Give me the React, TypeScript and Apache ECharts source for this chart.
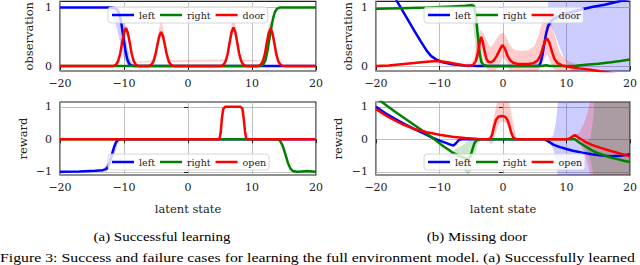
import React, { useEffect, useRef } from 'react';
import * as echarts from 'echarts';

// ---------- axis ticks ----------
const X_MIN = -20;
const X_MAX = 20;
const X_STEP = 10;
const OBS_TICKS = [0, 1];
const REW_TICKS = [-1, 0, 1];
const OBS_RANGE = [-0.085, 1.105];
const REW_RANGE = [-1.1, 1.15];

// ---------- (a) observation ----------
const obsA_left = [[-20, 1], [-12, 1], [-11.4, 0.99], [-11, 0.96], [-10.7, 0.88], [-10.4, 0.72], [-10.1, 0.5], [-9.8, 0.28], [-9.5, 0.12], [-9.2, 0.04], [-8.8, 0.01], [-8.4, 0], [20, 0]];
const obsA_right = [[-20, 0], [11.4, 0], [11.8, 0.03], [12.1, 0.1], [12.4, 0.25], [12.7, 0.45], [13.0, 0.65], [13.3, 0.82], [13.6, 0.93], [13.9, 0.98], [14.3, 1], [20, 1]];
const obsA_door = [
  [-20, 0], [-12, 0], [-11.5, 0.007], [-11.2, 0.03], [-10.9, 0.09], [-10.6, 0.21], [-10.3, 0.4], [-10.0, 0.57], [-9.7, 0.65], [-9.4, 0.57], [-9.1, 0.4], [-8.8, 0.21], [-8.5, 0.09], [-8.2, 0.03], [-7.9, 0.007], [-7.5, 0],
  [-6.5, 0], [-6, 0.006], [-5.7, 0.026], [-5.4, 0.078], [-5.1, 0.19], [-4.8, 0.35], [-4.5, 0.51], [-4.2, 0.58], [-3.9, 0.51], [-3.6, 0.35], [-3.3, 0.19], [-3.0, 0.078], [-2.7, 0.026], [-2.4, 0.006], [-2, 0],
  [4.8, 0], [5.3, 0.007], [5.6, 0.029], [5.9, 0.089], [6.2, 0.21], [6.5, 0.4], [6.8, 0.58], [7.1, 0.66], [7.4, 0.58], [7.7, 0.4], [8.0, 0.21], [8.3, 0.089], [8.6, 0.029], [8.9, 0.007], [9.4, 0],
  [10.6, 0], [11.1, 0.007], [11.4, 0.028], [11.7, 0.086], [12.0, 0.2], [12.3, 0.39], [12.6, 0.56], [12.9, 0.64], [13.2, 0.56], [13.5, 0.39], [13.8, 0.2], [14.1, 0.086], [14.4, 0.028], [14.7, 0.007], [15.2, 0], [20, 0],
];
// bands: [x, low, high]
const bandA_obs_left = [[-12.5, 1, 1], [-12, 0.93, 1.01], [-11.5, 0.8, 1.0], [-11, 0.6, 0.98], [-10.5, 0.35, 0.9], [-10, 0.12, 0.7], [-9.5, 0.02, 0.35], [-9, 0, 0.1], [-8.5, 0, 0.02], [-8, 0, 0]];
const bandA_obs_door = [
  [-11.1, 0.05, 0.07], [-10.8, 0.12, 0.17], [-10.5, 0.24, 0.33], [-10.2, 0.4, 0.52], [-9.95, 0.5, 0.64], [-9.7, 0.56, 0.71], [-9.45, 0.5, 0.64], [-9.2, 0.4, 0.52], [-8.9, 0.24, 0.33], [-8.6, 0.12, 0.17], [-8.3, 0.05, 0.07],
  [-5.4, 0.07, 0.1], [-5.1, 0.16, 0.25], [-4.8, 0.3, 0.45], [-4.5, 0.44, 0.66], [-4.2, 0.5, 0.77], [-3.9, 0.44, 0.66], [-3.6, 0.3, 0.45], [-3.3, 0.16, 0.25], [-3.0, 0.07, 0.1],
  [5.9, 0.08, 0.11], [6.2, 0.18, 0.27], [6.5, 0.34, 0.5], [6.8, 0.5, 0.71], [7.1, 0.57, 0.8], [7.4, 0.5, 0.71], [7.7, 0.34, 0.5], [8.0, 0.18, 0.27], [8.3, 0.08, 0.11],
  [11.7, 0.08, 0.1], [12.0, 0.17, 0.26], [12.3, 0.33, 0.49], [12.6, 0.48, 0.69], [12.9, 0.55, 0.77], [13.2, 0.48, 0.69], [13.5, 0.33, 0.49], [13.8, 0.17, 0.26], [14.1, 0.08, 0.1],
];

// ---------- (a) reward ----------
const rewA_left = [[-20, -1], [-17, -0.99], [-14.5, -0.97], [-13.3, -0.95], [-12.8, -0.92], [-12.5, -0.85], [-12.2, -0.7], [-11.9, -0.48], [-11.6, -0.27], [-11.3, -0.11], [-11, -0.03], [-10.6, 0], [20, 0]];
const rewA_right = [[-20, 0], [14, 0], [14.4, -0.05], [14.8, -0.2], [15.2, -0.45], [15.6, -0.72], [16, -0.9], [16.4, -0.98], [17, -1.0], [17.8, -0.99], [18.6, -0.98], [19.4, -0.99], [20, -1.0]];
const rewA_open = [[-20, 0], [4.9, 0], [5.1, 0.2], [5.3, 0.65], [5.5, 0.93], [5.8, 1], [8.2, 1], [8.5, 0.95], [8.7, 0.65], [8.9, 0.25], [9.1, 0.02], [9.3, 0], [20, 0]];
const bandA_rew_left = [[-14, -0.98, -0.94], [-13.2, -0.98, -0.9], [-12.6, -0.96, -0.72], [-12.1, -0.85, -0.45], [-11.6, -0.55, -0.15], [-11.1, -0.2, -0.02], [-10.6, -0.02, 0], [-10, 0, 0]];

// ---------- (b) observation ----------
const obsB_left = [[-20, 1.72], [-18, 1.35], [-16.7, 1.11], [-15.5, 0.89], [-14, 0.61], [-13, 0.43], [-12, 0.26], [-11.3, 0.17], [-10.5, 0.11], [-9.5, 0.065], [-8, 0.03], [-6, 0.01], [-4, 0.0], [5.6, 0.0], [5.9, 0.05], [6.2, 0.18], [6.5, 0.38], [6.8, 0.56], [7.1, 0.68], [7.5, 0.76], [8, 0.81], [9, 0.86], [10, 0.9], [12, 0.96], [14, 1.01], [16, 1.05], [18, 1.1], [20, 1.15]];
const obsB_right = [[-20, 0.98], [-16, 0.99], [-12, 1.0], [-8, 1.02], [-6, 1.03], [-5, 1.04], [-4.6, 1.03], [-4.4, 0.95], [-4.2, 0.78], [-4.0, 0.55], [-3.8, 0.33], [-3.6, 0.17], [-3.4, 0.07], [-3.1, 0.02], [-2.6, 0], [6, 0], [6.8, 0.015], [7.4, 0], [10, 0], [11.5, 0.005], [13, 0.02], [15, 0.04], [17, 0.065], [18.5, 0.085], [20, 0.11]];
const obsB_door = [[-20, 0], [-18, 0.01], [-16, 0.03], [-14, 0.05], [-12, 0.075], [-10.5, 0.085], [-9, 0.07], [-7.5, 0.04], [-6, 0.01], [-5.2, 0.005], [-4.7, 0.02], [-4.3, 0.08], [-4, 0.2], [-3.7, 0.38], [-3.45, 0.5], [-3.2, 0.42], [-2.9, 0.25], [-2.6, 0.12], [-2.3, 0.07], [-1.9, 0.065], [-1.5, 0.09], [-1.0, 0.17], [-0.5, 0.28], [-0.1, 0.36], [0.3, 0.3], [0.7, 0.18], [1.1, 0.1], [1.6, 0.055], [2.2, 0.04], [3, 0.035], [4, 0.035], [4.8, 0.05], [5.4, 0.09], [5.9, 0.18], [6.3, 0.32], [6.7, 0.45], [6.95, 0.47], [7.3, 0.4], [7.7, 0.25], [8.1, 0.12], [8.6, 0.05], [9.3, 0.01], [10.5, -0.015], [12, -0.04], [13.5, -0.06], [15, -0.085], [17, -0.12], [20, -0.18]];
const bandB_obs_left = [[5.8, 0.03, 0.06], [6.2, 0.15, 0.24], [6.6, 0.4, 0.55], [7.0, 0.62, 0.8], [7.2, 0.68, 1.3], [7.5, 0.7, 2.5], [8, 0.6, 2.5], [8.5, 0.45, 2.5], [9, 0.3, 2.5], [9.5, 0.17, 2.5], [10, 0.06, 2.5], [10.5, -0.04, 2.5], [11, -0.12, 2.5], [12, -0.3, 2.5], [14, -0.6, 2.5], [20, -1.5, 2.5]];
const bandB_obs_right = [[-5.5, 1.0, 1.06], [-5, 0.95, 1.08], [-4.6, 0.6, 1.08], [-4.3, 0.3, 1.06], [-4, 0.05, 0.92], [-3.7, 0, 0.55], [-3.4, -0.01, 0.22], [-3, -0.01, 0.06], [-2.5, -0.01, 0.02]];
const bandB_obs_door = [[-5, 0, 0.05], [-4.5, 0, 0.15], [-4, 0.1, 0.5], [-3.5, 0.3, 0.62], [-3, 0.12, 0.55], [-2.5, -0.05, 0.42], [-2, -0.12, 0.32], [-1.5, -0.1, 0.38], [-1, -0.05, 0.47], [-0.5, 0.05, 0.55], [0, 0.15, 0.58], [0.5, 0.08, 0.5], [1, -0.08, 0.38], [1.5, -0.12, 0.3], [2, -0.14, 0.27], [3, -0.14, 0.26], [4, -0.14, 0.27], [5, -0.12, 0.35], [5.5, -0.08, 0.5], [6, -0.02, 0.68], [6.5, 0.12, 0.82], [7, 0.2, 0.86], [7.5, 0.05, 0.78], [8, -0.05, 0.58], [8.5, -0.12, 0.38], [9, -0.15, 0.22], [10, -0.18, 0.1], [11, -0.2, 0.05], [12, -0.25, 0.02]];

// ---------- (b) reward ----------
const rewB_left = [[-20, 1.0], [-18.5, 0.8], [-17, 0.63], [-15.5, 0.47], [-14, 0.32], [-12.5, 0.18], [-11, 0.04], [-10, -0.04], [-9, -0.11], [-8.2, -0.17], [-7.8, -0.19], [-7.4, -0.12], [-7, -0.03], [-6.6, 0], [6.6, 0], [7.2, -0.07], [8, -0.17], [9, -0.24], [10, -0.3], [11, -0.35], [12.5, -0.41], [14, -0.46], [15.5, -0.5], [17, -0.52], [18.5, -0.51], [20, -0.46]];
const rewB_right = [[-20, 1.3], [-18.6, 1.08], [-17, 0.85], [-15, 0.58], [-13, 0.31], [-11, 0.03], [-9.5, -0.2], [-8, -0.4], [-7, -0.5], [-6, -0.58], [-5.4, -0.62], [-5.1, -0.5], [-4.8, -0.3], [-4.5, -0.12], [-4.2, -0.04], [-3.8, -0.01], [-3.4, 0], [11.3, 0], [12, -0.1], [13, -0.22], [14, -0.34], [15, -0.43], [16, -0.5], [17, -0.56], [18, -0.61], [19, -0.66], [20, -0.7]];
const rewB_open = [[-20, 0.93], [-18, 0.68], [-16, 0.48], [-14, 0.32], [-12, 0.22], [-10, 0.14], [-8, 0.08], [-6, 0.04], [-4, 0.01], [-2.4, 0.0], [-2, 0.02], [-1.7, 0.15], [-1.4, 0.4], [-1.1, 0.6], [-0.7, 0.7], [-0.2, 0.72], [0.3, 0.7], [0.7, 0.6], [1.0, 0.42], [1.3, 0.2], [1.6, 0.06], [2, 0.01], [2.5, 0], [10, 0], [10.5, 0.03], [11.3, 0.13], [12, 0.04], [12.8, -0.06], [14, -0.17], [15.5, -0.27], [17, -0.36], [18.5, -0.44], [20, -0.52]];
const bandB_rew_left = [[6.6, 0, 0], [7.4, -0.12, 0.04], [7.9, -0.3, 0.1], [8.3, -0.6, 0.5], [8.7, -1.2, 1.2], [9.1, -2, 2], [20, -3, 3]];
const bandB_rew_right1 = [[-8.5, -0.55, -0.45], [-7.5, -0.7, -0.3], [-6.5, -0.88, -0.2], [-5.5, -1.1, -0.05], [-5, -0.95, 0.05], [-4.5, -0.5, 0.08], [-4, -0.15, 0.04], [-3.5, -0.03, 0.01], [-3, 0, 0]];
const bandB_rew_right2 = [[12, -0.1, -0.1], [13, -0.32, -0.12], [13.8, -0.65, 0.05], [14.3, -1.2, 0.8], [14.6, -2, 2], [20, -3, 3]];
const bandB_rew_open1 = [[-2.5, -0.02, 0.02], [-2, -0.15, 0.15], [-1.5, -0.1, 0.6], [-1, 0.3, 1.1], [-0.5, 0.5, 1.3], [0, 0.55, 1.3], [0.5, 0.5, 1.3], [1, 0.3, 1.1], [1.5, -0.05, 0.6], [2, -0.03, 0.1], [2.5, -0.01, 0.02]];
const bandB_rew_open2 = [[11.3, 0.13, 0.13], [12, -0.1, 0.2], [12.8, -0.4, 0.5], [13.4, -0.8, 0.9], [13.9, -1.3, 1.3], [14.2, -2, 2], [20, -3, 3]];

const BLUE = '#0000ff';
const GREEN = '#008000';
const RED = '#ff0000';
const BLUE_A = 'rgba(0,0,255,0.2)';
const GREEN_A = 'rgba(0,128,0,0.2)';
const RED_A = 'rgba(255,0,0,0.2)';

const SERIF = 'DejaVu Serif';
const CAPTION_FONT = '"Liberation Serif", "Times New Roman", serif';
const INK = '#222222';

const GRIDS = [
  { left: 60, top: 0, width: 256, height: 71 },
  { left: 60, top: 102, width: 256, height: 73 },
  { left: 376, top: 0, width: 257, height: 71 },
  { left: 376, top: 102, width: 257, height: 73 },
];

const minus = (v: number) => String(v).replace('-', '\u2212');

function band(name: string, data: number[][], color: string, g: number) {
  return {
    type: 'custom',
    name,
    xAxisIndex: g,
    yAxisIndex: g,
    clip: true,
    silent: true,
    z: 1,
    data,
    encode: { x: 0, y: [1, 2] },
    renderItem: (params: any, api: any) => {
      if (params.dataIndex !== 0) return null;
      const upper = data.map((d) => api.coord([d[0], d[2]]));
      const lower = data.slice().reverse().map((d) => api.coord([d[0], d[1]]));
      const cs = params.coordSys;
      return {
        type: 'polygon',
        shape: { points: upper.concat(lower) },
        style: { fill: color },
        clipPath: { type: 'rect', shape: { x: cs.x, y: cs.y, width: cs.width, height: cs.height } },
      };
    },
  };
}

function line(name: string, data: number[][], color: string, g: number) {
  return {
    type: 'line',
    name,
    data,
    xAxisIndex: g,
    yAxisIndex: g,
    showSymbol: false,
    symbol: 'none',
    clip: true,
    silent: true,
    z: 3,
    lineStyle: { color, width: 2.5 },
    itemStyle: { color },
  };
}

function xAxis(g: number, withName: boolean) {
  return {
    type: 'value',
    gridIndex: g,
    min: X_MIN,
    max: X_MAX,
    interval: X_STEP,
    name: withName ? 'latent state' : '',
    nameLocation: 'middle',
    nameGap: 28,
    nameTextStyle: { fontFamily: SERIF, fontSize: 11.5, color: INK },
    axisLine: { show: false },
    axisTick: { show: true, length: 4, lineStyle: { color: INK, width: 1 } },
    axisLabel: { margin: 7, fontFamily: SERIF, fontSize: 11, color: INK, formatter: minus },
    splitLine: { show: true, lineStyle: { color: '#b0b0b0', width: 0.8 } },
  };
}

function yAxis(g: number, name: string, range: number[], ticks: number[], gap: number) {
  return {
    type: 'value',
    gridIndex: g,
    min: range[0],
    max: range[1],
    name,
    nameLocation: 'middle',
    nameRotate: 90,
    nameGap: gap,
    nameTextStyle: { fontFamily: SERIF, fontSize: 11.5, color: INK },
    axisLine: { show: false },
    axisTick: { show: true, length: 4, customValues: ticks, lineStyle: { color: INK, width: 1 } },
    axisLabel: { margin: 8, fontFamily: SERIF, fontSize: 11, color: INK, customValues: ticks, formatter: minus },
    splitLine: { show: true, lineStyle: { color: '#b0b0b0', width: 0.8 } },
  };
}

const legendBase = {
  orient: 'horizontal',
  icon: 'rect',
  itemWidth: 22,
  itemHeight: 2.5,
  itemGap: 5,
  padding: [3, 3, 3, 4],
  backgroundColor: 'rgba(255,255,255,0.8)',
  borderColor: '#cccccc',
  borderWidth: 0.8,
  borderRadius: 3,
  selectedMode: false,
  textStyle: { fontFamily: SERIF, fontSize: 9.5, color: INK },
};

function caption(text: string, x: number, y: number, size: number, align: string, stretch: number) {
  return {
    type: 'text',
    x,
    y,
    scaleX: stretch,
    style: {
      text,
      font: `${size}px ${CAPTION_FONT}`,
      fill: '#000',
      align,
      verticalAlign: 'middle',
      textAlign: align,
      textVerticalAlign: 'middle',
    },
  };
}

export default function App() {
  const ref = useRef<HTMLDivElement>(null);
  useEffect(() => {
    if (!ref.current) return;
    const chart = echarts.init(ref.current, null, { renderer: 'svg' });
    chart.setOption({
      animation: false,
      backgroundColor: '#ffffff',
      grid: GRIDS.map((g) => ({ ...g, show: true, borderColor: INK, borderWidth: 1.2, backgroundColor: 'transparent' })),
      xAxis: [xAxis(0, false), xAxis(1, true), xAxis(2, false), xAxis(3, true)],
      yAxis: [
        yAxis(0, 'observation', OBS_RANGE, OBS_TICKS, 25),
        yAxis(1, 'reward', REW_RANGE, REW_TICKS, 31),
        yAxis(2, 'observation', OBS_RANGE, OBS_TICKS, 22),
        yAxis(3, 'reward', REW_RANGE, REW_TICKS, 32),
      ],
      legend: [
        { ...legendBase, data: ['left', 'right', 'door'], left: 108, top: 7 },
        { ...legendBase, data: ['left', 'right', 'open'], left: 108, top: 154 },
        { ...legendBase, data: ['left', 'right', 'door'], left: 424, top: 7 },
        { ...legendBase, data: ['left', 'right', 'open'], left: 424, top: 154 },
      ],
      series: [
        band('bA1l', bandA_obs_left, BLUE_A, 0),
        band('bA1d', bandA_obs_door, RED_A, 0),
        band('bA2l', bandA_rew_left, BLUE_A, 1),
        band('bB1l', bandB_obs_left, BLUE_A, 2),
        band('bB1r', bandB_obs_right, GREEN_A, 2),
        band('bB1d', bandB_obs_door, RED_A, 2),
        band('bB2l', bandB_rew_left, BLUE_A, 3),
        band('bB2r1', bandB_rew_right1, GREEN_A, 3),
        band('bB2o1', bandB_rew_open1, RED_A, 3),
        band('bB2o2', bandB_rew_open2, RED_A, 3),
        band('bB2r2', bandB_rew_right2, GREEN_A, 3),
        line('left', obsA_left, BLUE, 0),
        line('right', obsA_right, GREEN, 0),
        line('door', obsA_door, RED, 0),
        line('left', rewA_left, BLUE, 1),
        line('right', rewA_right, GREEN, 1),
        line('open', rewA_open, RED, 1),
        line('left', obsB_left, BLUE, 2),
        line('right', obsB_right, GREEN, 2),
        line('door', obsB_door, RED, 2),
        line('left', rewB_left, BLUE, 3),
        line('right', rewB_right, GREEN, 3),
        line('open', rewB_open, RED, 3),
      ],
      graphic: [
        caption('(a) Successful learning', 162, 237, 13, 'center', 1.15),
        caption('(b) Missing door', 477, 237, 13, 'center', 1.15),
        caption('Figure 3: Success and failure cases for learning the full environment model. (a) Successfully learned', 0, 257.5, 12.8, 'left', 1.235),
      ],
    });
    return () => chart.dispose();
  }, []);
  return <div ref={ref} style={{ position: 'fixed', left: 0, top: 0, width: 640, height: 265, background: '#fff' }} />;
}
